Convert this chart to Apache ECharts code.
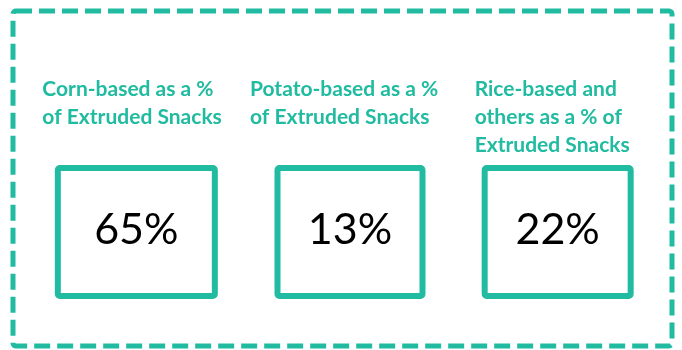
<!DOCTYPE html>
<html>
<head>
<meta charset="utf-8">
<style>
  html, body { margin: 0; padding: 0; background: #ffffff; }
  #chart { width: 682px; height: 350px; }
</style>
<script src="https://cdn.jsdelivr.net/npm/echarts@6/dist/echarts.min.js"></script>
</head>
<body>
<div id="chart"></div>
<script>
// Card headings (one per snack base) and their share of extruded snacks
const categories = [
  'Corn-based as a %\nof Extruded Snacks',
  'Potato-based as a %\nof Extruded Snacks',
  'Rice-based and\nothers as a % of\nExtruded Snacks'
];
const shares = [65, 13, 22];

// Presentation tweaks per card (pixels): box width, horizontal nudge, heading indent
const cardWidth = [157, 145, 146];
const cardNudge = [0, 3, 0];
const headingShift = [-94, -97, -83];

const TEAL = '#20BBA0';

const chart = echarts.init(document.getElementById('chart'), null, { renderer: 'canvas' });

chart.setOption({
  animation: false,
  backgroundColor: '#ffffff',
  grid: { left: 31, right: 19, top: 168, bottom: 54 },
  xAxis: { type: 'category', data: categories, show: false },
  yAxis: { type: 'value', min: 0, max: 1, show: false },
  graphic: [{
    type: 'rect',
    shape: { x: 13, y: 11, width: 659, height: 335, r: 3 },
    style: { fill: 'none', stroke: TEAL, lineWidth: 5, lineDash: [16, 7] },
    silent: true
  }],
  series: [{
    type: 'custom',
    data: shares.map((v, i) => [i, v]),
    encode: { x: 0 },
    renderItem: function (params, api) {
      const i = api.value(0);
      const v = api.value(1);
      const top = api.coord([i, 1]);
      const bottom = api.coord([i, 0]);
      const cx = top[0] + cardNudge[i];
      const w = cardWidth[i];
      return {
        type: 'group',
        children: [
          {
            type: 'rect',
            shape: { x: cx - w / 2, y: top[1], width: w, height: bottom[1] - top[1], r: 2 },
            style: { fill: '#ffffff', stroke: TEAL, lineWidth: 6 }
          },
          {
            type: 'text',
            style: {
              x: cx, y: (top[1] + bottom[1]) / 2 - 2,
              text: v + '%',
              fill: '#000000',
              font: '43px Lato',
              align: 'center', verticalAlign: 'middle'
            }
          },
          {
            type: 'text',
            style: {
              x: top[0] + headingShift[i], y: top[1] - 93,
              text: categories[i],
              fill: TEAL,
              font: 'bold 21px Lato',
              lineHeight: 28,
              align: 'left', verticalAlign: 'top'
            }
          }
        ]
      };
    }
  }]
});
</script>
</body>
</html>
